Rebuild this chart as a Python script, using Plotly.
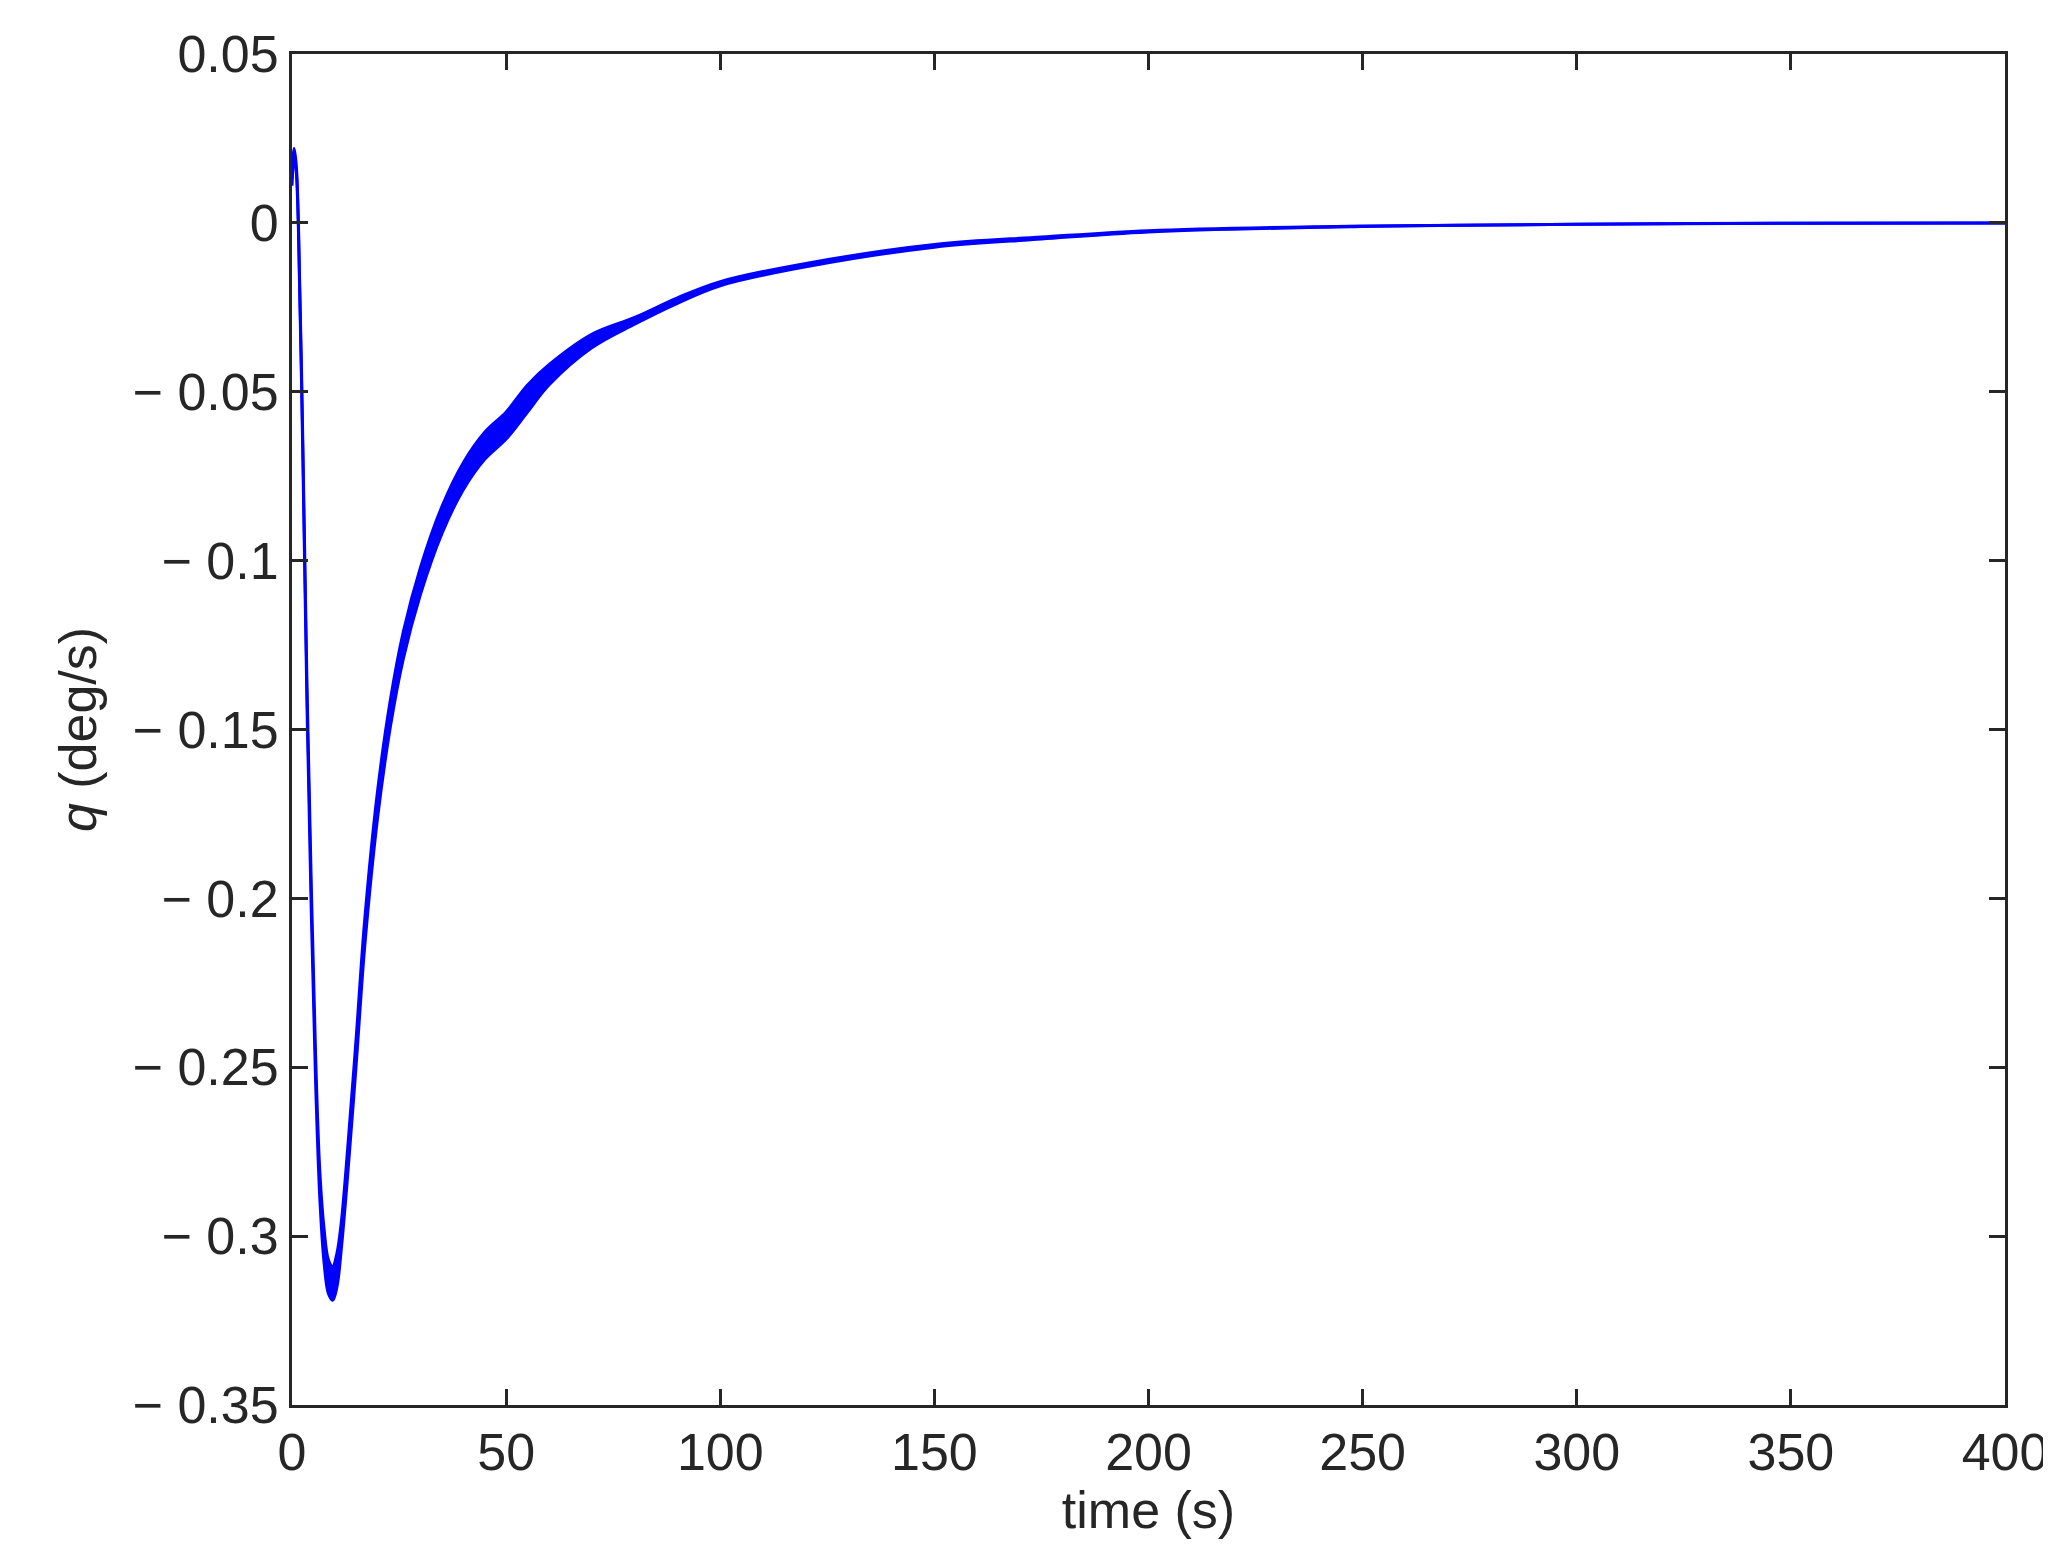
import plotly.graph_objects as go

t = [0, 0.5, 1.0, 1.5, 2.5, 3.5, 4.5, 5.5, 6.5, 7.5, 8.5, 9.5, 10.5, 11.5, 13, 15, 17, 20, 23, 26, 30, 35, 40, 45, 50, 55, 60, 70, 80, 90, 100, 120, 150, 175, 200, 250, 300, 350, 400]
q_upper = [0.013, 0.022, 0.017, 0.000, -0.063, -0.137, -0.196, -0.246, -0.281, -0.298, -0.307, -0.309, -0.305, -0.296, -0.274, -0.241, -0.206, -0.168, -0.141, -0.121, -0.102, -0.084, -0.071, -0.062, -0.056, -0.048, -0.042, -0.033, -0.028, -0.0222, -0.0174, -0.0120, -0.0064, -0.0042, -0.0023, -0.0009, -0.0004, -0.0001, 0.0]
q_lower = [0.011, 0.020, 0.015, -0.002, -0.067, -0.143, -0.204, -0.254, -0.289, -0.308, -0.317, -0.319, -0.315, -0.304, -0.282, -0.249, -0.214, -0.176, -0.149, -0.129, -0.110, -0.092, -0.079, -0.070, -0.064, -0.056, -0.048, -0.037, -0.030, -0.0238, -0.0186, -0.0130, -0.0072, -0.0048, -0.0027, -0.0011, -0.0004, -0.0001, 0.0]

x_ticks = [0, 50, 100, 150, 200, 250, 300, 350, 400]
y_ticks = [0.05, 0, -0.05, -0.1, -0.15, -0.2, -0.25, -0.3, -0.35]
y_labels = ["0.05", "0", "\u2212 0.05", "\u2212 0.1", "\u2212 0.15", "\u2212 0.2", "\u2212 0.25", "\u2212 0.3", "\u2212 0.35"]

fig = go.Figure()
fig.add_trace(go.Scatter(x=t, y=q_upper, mode="lines", line=dict(color="#0000ff", width=3, shape="spline"), showlegend=False))
fig.add_trace(go.Scatter(x=t, y=q_lower, mode="lines", line=dict(color="#0000ff", width=3, shape="spline"),
                         fill="tonexty", fillcolor="#0000ff", showlegend=False))

font = dict(family="Liberation Sans, Arial", size=52, color="#262626")
axis_common = dict(showgrid=False, zeroline=False, showline=True, linecolor="#262626", linewidth=3,
                   mirror="ticks", ticks="inside", ticklen=16, tickwidth=3, tickcolor="#262626",
                   tickfont=font)
fig.update_xaxes(range=[0, 400], tickvals=x_ticks, ticktext=[str(v) for v in x_ticks],
                 title=dict(text="time (s)", font=font, standoff=10), **axis_common)
fig.update_yaxes(range=[-0.35, 0.05], tickvals=y_ticks, ticktext=y_labels,
                 title=dict(text="<i>q</i> (deg/s)", font=font, standoff=20), **axis_common)
fig.update_layout(width=2051, height=1566, paper_bgcolor="white", plot_bgcolor="white",
                  margin=dict(l=284, r=54, t=46, b=169))
fig.write_html("out.html")
